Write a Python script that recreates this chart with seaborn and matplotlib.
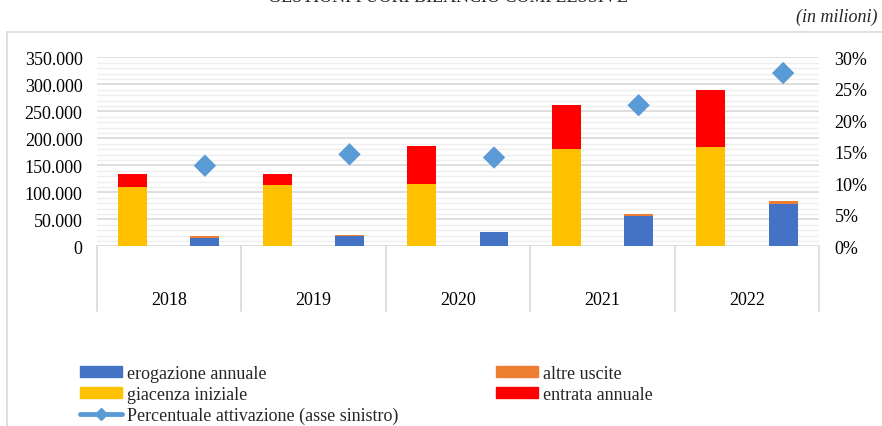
import numpy as np
import pandas as pd
import matplotlib
matplotlib.use('Agg')
import matplotlib.pyplot as plt
import seaborn as sns
from matplotlib.lines import Line2D
from matplotlib.patches import Patch
from matplotlib.ticker import FuncFormatter, MultipleLocator

# valori (in milioni)
anni = ['2018', '2019', '2020', '2021', '2022']
giacenza_iniziale = [109000, 113500, 115400, 180200, 183300]
entrata_annuale = [25000, 21000, 69800, 80900, 106200]
erogazione_annuale = [16000, 18500, 26000, 56700, 78900]
altre_uscite = [2500, 2800, 700, 3100, 4400]
percentuale_attivazione = [0.128, 0.146, 0.141, 0.224, 0.275]

BLU = '#4472c4'
ARANCIO = '#ed7d31'
GIALLO = '#ffc000'
ROSSO = '#ff0000'
AZZURRO = '#5b9bd5'
GRIGIO = '#d9d9d9'

sns.set_theme(style='white')
plt.rcParams['font.family'] = ['Liberation Serif', 'DejaVu Serif']
plt.rcParams['font.size'] = 13

pos = np.arange(len(anni))
fonti = np.array(giacenza_iniziale) + np.array(entrata_annuale)
impieghi = np.array(erogazione_annuale) + np.array(altre_uscite)

df_tot = pd.DataFrame({'pos': np.concatenate([pos, pos]),
                       'gruppo': ['fonti'] * len(anni) + ['impieghi'] * len(anni),
                       'valore': np.concatenate([fonti, impieghi])})
df_base = pd.DataFrame({'pos': np.concatenate([pos, pos]),
                        'gruppo': ['fonti'] * len(anni) + ['impieghi'] * len(anni),
                        'valore': giacenza_iniziale + erogazione_annuale})

fig = plt.figure(figsize=(8.82, 4.27), dpi=100)
ax = fig.add_axes([96.5 / 882, 1 - 247.3 / 427, (819.3 - 96.5) / 882, 189 / 427])

common = dict(x='pos', y='valore', hue='gruppo', hue_order=['fonti', 'impieghi'],
              native_scale=True, width=1.0, gap=0.6, errorbar=None,
              legend=False, saturation=1, linewidth=0, ax=ax)
sns.barplot(data=df_tot, palette={'fonti': ROSSO, 'impieghi': ARANCIO}, **common)
sns.barplot(data=df_base, palette={'fonti': GIALLO, 'impieghi': BLU}, **common)

ax.set_xlim(-0.5, len(anni) - 0.5)
ax.set_ylim(0, 350000)
ax.set_axisbelow(True)
ax.yaxis.set_major_locator(MultipleLocator(50000))
ax.yaxis.set_minor_locator(MultipleLocator(10000))
ax.yaxis.set_major_formatter(FuncFormatter(lambda v, p: f"{int(v):,}".replace(',', '.')))
ax.grid(axis='y', which='major', color=GRIGIO, lw=1.2)
ax.grid(axis='y', which='minor', color='#eeeeee', lw=1.0)
ax.grid(axis='x', visible=False)
ax.set_xticks(pos)
ax.set_xticklabels(anni)
ax.tick_params(axis='x', length=0, pad=32, labelsize=13, colors='black')
ax.tick_params(axis='y', which='both', length=0, pad=10, labelsize=13, colors='black')
ax.set_xlabel('')
ax.set_ylabel('')
for s in ax.spines.values():
    s.set_visible(False)

# linee della tabella delle categorie
for b in np.arange(-0.5, len(anni), 1.0):
    ax.plot([b, b], [0, -0.342], transform=ax.get_xaxis_transform(),
            color=GRIGIO, lw=1.2, clip_on=False)

ax2 = ax.twinx()
sns.scatterplot(x=pos + 0.25, y=percentuale_attivazione, marker='D', s=130,
                color=AZZURRO, edgecolor='none', ax=ax2, zorder=3, legend=False)
ax2.set_ylim(0, 0.30)
ax2.set_xlim(-0.5, len(anni) - 0.5)
ax2.yaxis.set_major_locator(MultipleLocator(0.05))
ax2.yaxis.set_major_formatter(FuncFormatter(lambda v, p: f"{v * 100:.0f}%"))
ax2.tick_params(axis='y', length=0, pad=11, labelsize=13, colors='black')
ax2.grid(False)
for s in ax2.spines.values():
    s.set_visible(False)

# cornice del grafico
fig.add_artist(Line2D([7 / 882, 7 / 882], [0, 1 - 33 / 427], color=GRIGIO, lw=1.2))
fig.add_artist(Line2D([7 / 882, 1], [1 - 33 / 427, 1 - 33 / 427], color=GRIGIO, lw=1.2))

# titolo tagliato in alto come nell'originale
fig.text(448 / 882, 1 - 1.5 / 427, 'GESTIONI FUORI BILANCIO COMPLESSIVE',
         ha='center', va='baseline', fontsize=13)
fig.text(877 / 882, 1 - 17 / 427, '(in milioni)', ha='right', va='center',
         fontsize=13, style='italic')

handles = [Patch(color=BLU, label='erogazione annuale'),
           Patch(color=GIALLO, label='giacenza iniziale'),
           Line2D([], [], color=AZZURRO, lw=3.5, marker='D', ms=6,
                  label='Percentuale attivazione (asse sinistro)'),
           Patch(color=ARANCIO, label='altre uscite'),
           Patch(color=ROSSO, label='entrata annuale')]
fig.legend(handles=handles, ncol=2, frameon=False, loc='upper left',
           bbox_to_anchor=(80 / 882, 1 - 366 / 427), fontsize=13,
           handlelength=2.33, handleheight=0.55, handletextpad=0.28,
           labelspacing=0.2, columnspacing=5.4, borderpad=0, borderaxespad=0)

fig.savefig('out.png', dpi=100)
